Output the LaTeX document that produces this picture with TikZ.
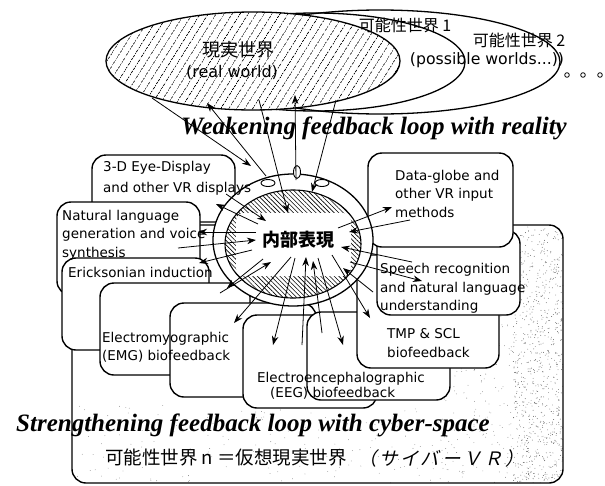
\documentclass[tikz,border=0pt]{standalone}
\usepackage{fontspec}
\setmainfont{DejaVu Sans}
\newfontfamily\cjk{Noto Sans CJK JP}
\newfontfamily\cjkslant[FakeSlant=0.22,LetterSpace=14]{Noto Sans CJK JP}
\newfontfamily\serfam{Liberation Serif}
\usetikzlibrary{arrows.meta,patterns.meta}
\begin{document}
\begin{tikzpicture}[x=1pt,y=-1pt,
  box/.style={draw, line width=1.4pt, rounded corners=14pt, fill=white, inner sep=0pt, outer sep=0pt, anchor=north west},
  arr/.style={line width=0.8pt, -{Stealth[length=9pt,width=6.5pt]}},
  lbl/.style={font=\fontsize{13.5}{16}\selectfont, inner sep=0pt, anchor=base west},
  oval/.style={line width=1.3pt},
  loopfont/.style={font=\fontsize{25}{28}\selectfont\serfam\bfseries\itshape, inner sep=0pt}]
\useasboundingbox (0,0) rectangle (605,485);

% ---------- top: worlds ----------
\draw[oval] (380,62) ellipse[x radius=180pt, y radius=52pt];
\draw[oval] (315,62) ellipse[x radius=150pt, y radius=49pt];
\draw[oval, preaction={fill=white}, pattern={Lines[angle=58,distance=6.5pt,line width=0.7pt]}]
  (253,61) ellipse[x radius=147pt, y radius=49pt];
\foreach \dx in {567,583,600} \draw[line width=0.8pt] (\dx,75) circle[radius=2.3pt];

\node[font=\fontsize{18}{20}\selectfont\cjk, inner sep=0pt] (rw1) at (238,50) {現実世界};
\node[font=\fontsize{16}{18}\selectfont, inner sep=0pt] (rw2) at (232,72) {(real world)};
\node[font=\fontsize{16}{18}\selectfont\cjk, inner sep=0pt] (pw1) at (405,25) {可能性世界 1};
\node[font=\fontsize{16}{18}\selectfont\cjk, inner sep=0pt] (pw2) at (519,40) {可能性世界 2};
\node[font=\fontsize{15.7}{18}\selectfont, inner sep=0pt] (pw3) at (487,60) {(possible worlds...))};

% ---------- big cyber-space box with stipple ----------
\begin{scope}
  \clip[rounded corners=14pt] (72,225) rectangle (563,483);
  \pgfmathsetseed{12}
  \foreach \i in {1,...,700}{
    \pgfmathsetmacro\px{513+50*rnd}\pgfmathsetmacro\py{226+256*rnd}
    \fill[black!60] (\px,\py) circle[radius=0.45pt];}
  \foreach \i in {1,...,260}{
    \pgfmathsetmacro\px{440+123*rnd}\pgfmathsetmacro\py{315+168*rnd}
    \fill[black!55] (\px,\py) circle[radius=0.4pt];}
  \foreach \i in {1,...,220}{
    \pgfmathsetmacro\px{75+488*rnd}\pgfmathsetmacro\py{405+78*rnd}
    \fill[black!50] (\px,\py) circle[radius=0.4pt];}
\end{scope}
\node[box, fill=none, minimum width=491pt, minimum height=258pt] (bb) at (72,225) {};

% ---------- boxes ----------
\node[box, minimum width=143pt, minimum height=67pt] (b3d) at (92,155) {};
\node[box, minimum width=143pt, minimum height=93pt] (bnat) at (57,202) {};
\node[box, minimum width=147pt, minimum height=92pt] (beri) at (62,258) {};
\node[box, minimum width=150pt, minimum height=92pt] (bemga) at (100,283) {};
\node[box, minimum width=146pt, minimum height=94pt] (bemgb) at (170,303) {};
\node[box, minimum width=134pt, minimum height=93pt] (beegc) at (243,315) {};
\node[box, minimum width=143pt, minimum height=88pt] (beegd) at (307,312) {};
\node[box, minimum width=142pt, minimum height=113pt] (btmp) at (357,255) {};
\node[box, minimum width=143pt, minimum height=85pt] (bsp) at (377,230) {};
\node[box, minimum width=145pt, minimum height=94pt] (bdg) at (368,153) {};

% ---------- head ----------
\draw[oval, fill=white] (293,240) ellipse[x radius=80pt, y radius=66pt];
\draw[line width=1.1pt, preaction={fill=white}, pattern={Lines[angle=-45,distance=3.2pt,line width=0.6pt]}]
  (293,244) ellipse[x radius=68pt, y radius=54pt];
\node[fill=white, rounded corners=8pt, inner sep=0pt, minimum width=115pt, minimum height=63pt] (core) at (293.5,244.5) {};
\draw[line width=0.9pt, fill=white] (268,183) ellipse[x radius=7pt, y radius=3.5pt];
\draw[line width=0.9pt, fill=white] (297,172) ellipse[x radius=3.5pt, y radius=6.5pt];
\draw[line width=0.9pt, fill=white] (322,183) ellipse[x radius=7pt, y radius=3.5pt];
\node[font=\fontsize{18}{20}\selectfont\cjk\bfseries, inner sep=0pt] (ir) at (298,240) {内部表現};

% ---------- texts ----------
\node[lbl] (t3a) at (103,171) {3-D Eye-Display};
\node[lbl] (t3b) at (103,192) {and other VR displays};
\node[lbl] (tna) at (62,220) {Natural language};
\node[lbl] (tnb) at (62,238) {generation and voice};
\node[lbl] (tnc) at (62,257) {synthesis};
\node[lbl] (ter) at (68,277) {Ericksonian induction};
\node[lbl] (tma) at (102,342) {Electromyographic};
\node[lbl] (tmb) at (102,360) {(EMG) biofeedback};
\node[lbl] (tea) at (257,382) {Electroencephalographic};
\node[lbl] (teb) at (270,397) {(EEG) biofeedback};
\node[lbl] (tta) at (387,338) {TMP \& SCL};
\node[lbl] (ttb) at (387,357) {biofeedback};
\node[lbl] (tsa) at (380,273) {Speech recognition};
\node[lbl] (tsb) at (380,292) {and natural language};
\node[lbl] (tsc) at (380,310) {understanding};
\node[lbl] (tda) at (395,180) {Data-globe and};
\node[lbl] (tdb) at (395,198) {other VR input};
\node[lbl] (tdc) at (395,217) {methods};

\node[loopfont] (weak) at (374,128) {Weakening feedback loop with reality};
\node[loopfont] (strong) at (253,425) {Strengthening feedback loop with cyber-space};
\node[font=\fontsize{18.5}{20}\selectfont\cjk, inner sep=0pt, anchor=west] (vr1) at (105,458) {可能性世界 n ＝仮想現実世界};
\node[font=\fontsize{18.5}{20}\selectfont\cjkslant, inner sep=0pt, anchor=east] (vr2) at (524,458) {（サイバーＶＲ）};

% ---------- arrow end points ----------
\coordinate (u1a) at (266,176); \coordinate (u1b) at (207,103);
\coordinate (u2a) at (152,98);  \coordinate (u2b) at (251,166);
\coordinate (u3a) at (259,100); \coordinate (u3b) at (288,213);
\coordinate (u4a) at (296,180); \coordinate (u4b) at (295,95);
\coordinate (u5a) at (336,100); \coordinate (u5b) at (312,192);
\coordinate (l1a) at (258,224); \coordinate (l1b) at (216,204);
\coordinate (l0a) at (226,194); \coordinate (l0b) at (266,221);
\coordinate (l2a) at (256,232); \coordinate (l2b) at (198,232);
\coordinate (l3a) at (178,248); \coordinate (l3b) at (256,240);
\coordinate (l4a) at (252,250); \coordinate (l4b) at (199,263);
\coordinate (l5a) at (263,259); \coordinate (l5b) at (227,288);
\coordinate (l7a) at (220,293); \coordinate (l7b) at (271,262);
\coordinate (l6a) at (291,257); \coordinate (l6b) at (234,323);
\coordinate (b1a) at (295,258); \coordinate (b1b) at (273,345);
\coordinate (b2a) at (302,345); \coordinate (b2b) at (306,257);
\coordinate (b3a) at (322,333); \coordinate (b3b) at (313,261);
\coordinate (b4a) at (318,258); \coordinate (b4b) at (343,345);
\coordinate (b5a) at (332,255); \coordinate (b5b) at (370,318);
\coordinate (b6a) at (373,292); \coordinate (b6b) at (343,268);
\coordinate (r1a) at (338,228); \coordinate (r1b) at (392,207);
\coordinate (r2a) at (410,220); \coordinate (r2b) at (349,232);
\coordinate (r3a) at (412,262); \coordinate (r3b) at (341,247);
\coordinate (r4a) at (350,262); \coordinate (r4b) at (422,281);

\foreach \n in {u1,u2,u3,u4,u5,l0,l1,l2,l3,l4,l5,l6,l7,b1,b2,b3,b4,b5,b6,r1,r2,r3,r4}
  \draw[arr] (\n a) -- (\n b);
\end{tikzpicture}
\end{document}
